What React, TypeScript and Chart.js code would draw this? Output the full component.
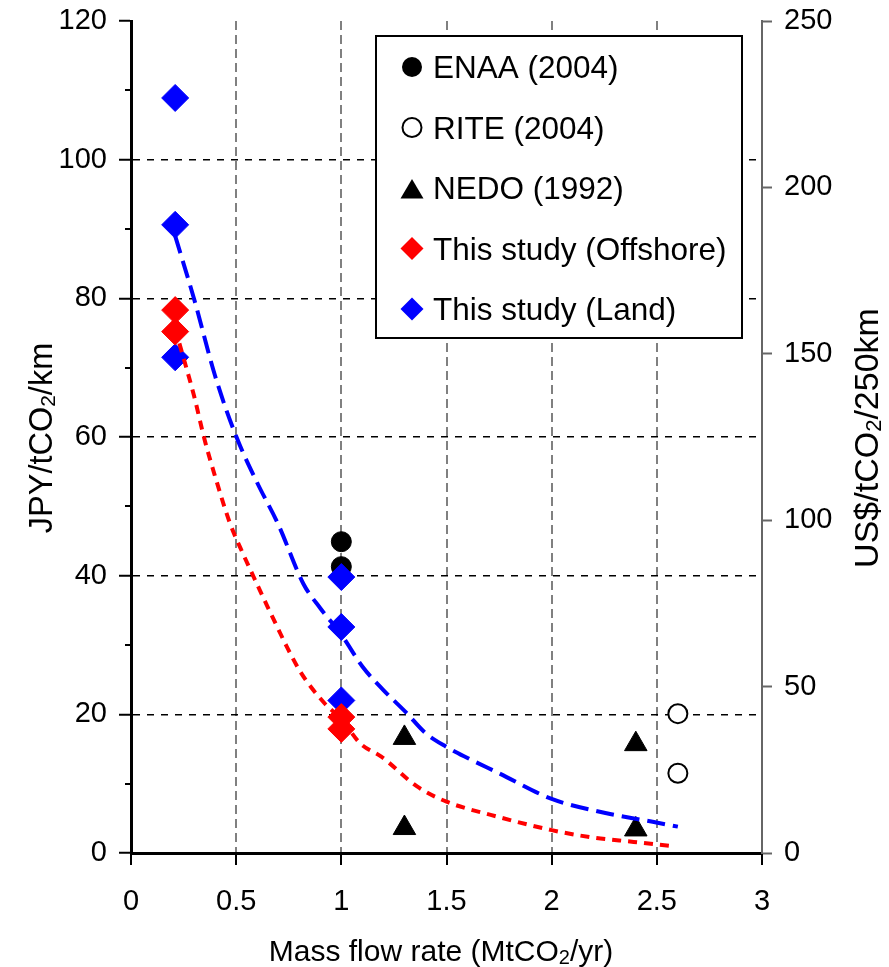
import React, { useEffect, useRef } from 'react';
import { Chart, registerables } from 'chart.js';

Chart.register(...registerables);

const FONT = '"Liberation Sans", Arial, sans-serif';

// ---- tick values ----
const X_TICKS = [0, 0.5, 1, 1.5, 2, 2.5, 3];
const Y_TICKS = [0, 20, 40, 60, 80, 100, 120];
const Y_MINOR = [10, 30, 50, 70, 90, 110];
const Y2_TICKS = [0, 50, 100, 150, 200, 250];

// ---- legend labels ----
const SERIES_LABELS = ['ENAA (2004)', 'RITE (2004)', 'NEDO (1992)', 'This study (Offshore)', 'This study (Land)'];

// ---- data (x: MtCO2/yr, y: JPY/tCO2/km) ----
const enaaX = [1, 1];
const enaaY = [44.9, 41.3];
const riteX = [2.6, 2.6];
const riteY = [20.1, 11.5];
const nedoX = [1.3, 1.3, 2.4, 2.4];
const nedoY = [16.6, 3.6, 15.7, 3.4];
const offshoreX = [0.21, 0.21, 1, 1];
const offshoreY = [78.3, 75.2, 19.6, 17.9];
const landX = [0.21, 0.21, 0.21, 1, 1, 1];
const landY = [108.9, 90.6, 71.5, 39.8, 32.6, 22.0];

// fitted curves
const landFitX = [0.21, 0.3, 0.4, 0.5, 0.6, 0.7, 0.82, 0.9, 1.0, 1.1, 1.2, 1.31, 1.4, 1.5, 1.6, 1.75, 2.0, 2.25, 2.48, 2.6];
const landFitY = [89, 79.9, 68.8, 60.1, 53.4, 47.4, 38.8, 35.3, 31.5, 26.9, 23.5, 20.2, 17.3, 15.3, 13.7, 11.5, 7.8, 5.8, 4.5, 3.8];
const offFitX = [0.23, 0.3, 0.35, 0.4, 0.47, 0.52, 0.585, 0.645, 0.7, 0.74, 0.81, 0.92, 1.0, 1.09, 1.19, 1.36, 1.5, 1.71, 2.0, 2.18, 2.39, 2.57];
const offFitY = [73.5, 65.9, 59.6, 54.3, 47.6, 44.0, 39.7, 35.8, 32.3, 29.8, 25.9, 21.6, 19.3, 15.8, 13.9, 9.6, 7.4, 5.5, 3.3, 2.3, 1.6, 1.0];

const zip = (xs: number[], ys: number[]) => xs.map((x, i) => ({ x, y: ys[i] }));

type Part = { text: string; sub?: boolean };

function drawRich(ctx: CanvasRenderingContext2D, parts: Part[], cx: number, baseY: number, size: number) {
  const mainF = `${size}px ${FONT}`;
  const subF = `${Math.round(size * 0.66)}px ${FONT}`;
  const widths = parts.map((p) => {
    ctx.font = p.sub ? subF : mainF;
    return ctx.measureText(p.text).width;
  });
  const total = widths.reduce((a, b) => a + b, 0);
  let x = cx - total / 2;
  ctx.textAlign = 'left';
  ctx.textBaseline = 'alphabetic';
  parts.forEach((p, i) => {
    ctx.font = p.sub ? subF : mainF;
    ctx.fillText(p.text, x, p.sub ? baseY + 3 : baseY);
    x += widths[i];
  });
}

const zeroPad = (axis: any) => {
  axis.paddingTop = 0;
  axis.paddingBottom = 0;
  axis.paddingLeft = 0;
  axis.paddingRight = 0;
};

const decorPlugin = {
  id: 'decor',
  afterDraw(chart: any) {
    const ctx: CanvasRenderingContext2D = chart.ctx;
    const yS = chart.scales.y;
    const area = chart.chartArea;
    ctx.save();
    // minor ticks on left axis
    ctx.strokeStyle = '#000';
    ctx.lineWidth = 2;
    Y_MINOR.forEach((v) => {
      const py = Math.round(yS.getPixelForValue(v));
      ctx.beginPath();
      ctx.moveTo(area.left - 6, py);
      ctx.lineTo(area.left, py);
      ctx.stroke();
    });

    // axis titles
    ctx.fillStyle = '#000';
    drawRich(ctx, [{ text: 'Mass flow rate (MtCO' }, { text: '2', sub: true }, { text: '/yr)' }], 441, 961, 30);

    ctx.save();
    ctx.translate(52, 438);
    ctx.rotate(-Math.PI / 2);
    drawRich(ctx, [{ text: 'JPY/tCO' }, { text: '2', sub: true }, { text: '/km' }], 0, 0, 32.5);
    ctx.restore();

    ctx.save();
    ctx.translate(878, 438);
    ctx.rotate(-Math.PI / 2);
    drawRich(ctx, [{ text: 'US$/tCO' }, { text: '2', sub: true }, { text: '/250km' }], 0, 0, 34);
    ctx.restore();

    // legend
    const lx = 376, ly = 36, lw = 366, lh = 302;
    ctx.fillStyle = '#fff';
    ctx.fillRect(lx, ly, lw, lh);
    ctx.lineWidth = 2;
    ctx.strokeStyle = '#000';
    ctx.strokeRect(lx, ly, lw, lh);
    const mx = 412;
    SERIES_LABELS.forEach((label, i) => {
      const cy = 67 + i * 60.5;
      ctx.save();
      if (i === 0) {
        ctx.fillStyle = '#000';
        ctx.beginPath();
        ctx.arc(mx, cy, 10, 0, Math.PI * 2);
        ctx.fill();
      } else if (i === 1) {
        ctx.fillStyle = '#fff';
        ctx.strokeStyle = '#000';
        ctx.lineWidth = 2;
        ctx.beginPath();
        ctx.arc(mx, cy, 9.5, 0, Math.PI * 2);
        ctx.fill();
        ctx.stroke();
      } else if (i === 2) {
        ctx.fillStyle = '#000';
        ctx.beginPath();
        ctx.moveTo(mx, cy - 9);
        ctx.lineTo(mx + 11.5, cy + 10.5);
        ctx.lineTo(mx - 11.5, cy + 10.5);
        ctx.closePath();
        ctx.fill();
      } else {
        ctx.fillStyle = i === 3 ? '#ff0000' : '#0000ff';
        const r = 11.5;
        ctx.beginPath();
        ctx.moveTo(mx, cy - r);
        ctx.lineTo(mx + r, cy);
        ctx.lineTo(mx, cy + r);
        ctx.lineTo(mx - r, cy);
        ctx.closePath();
        ctx.fill();
      }
      ctx.restore();
      ctx.fillStyle = '#000';
      ctx.font = `31.5px ${FONT}`;
      ctx.textAlign = 'left';
      ctx.textBaseline = 'alphabetic';
      ctx.fillText(label, 433, cy + 11);
    });
    ctx.restore();
  },
};

export default function App() {
  const ref = useRef<HTMLCanvasElement | null>(null);

  useEffect(() => {
    if (!ref.current) return;
    const transparent = 'rgba(0,0,0,0)';
    const chart = new Chart(ref.current, {
      type: 'scatter',
      data: {
        datasets: [
          {
            label: 'Offshore fit',
            data: zip(offFitX, offFitY),
            showLine: true,
            pointRadius: 0,
            borderColor: '#ff0000',
            borderWidth: 4,
            borderDash: [9, 7],
            cubicInterpolationMode: 'monotone',
          },
          {
            label: 'Land fit',
            data: zip(landFitX, landFitY),
            showLine: true,
            pointRadius: 0,
            borderColor: '#0000ff',
            borderWidth: 4,
            borderDash: [18, 8],
            cubicInterpolationMode: 'monotone',
          },
          {
            label: SERIES_LABELS[3],
            data: zip(offshoreX, offshoreY),
            pointStyle: 'rectRot',
            pointRadius: 13.5,
            backgroundColor: '#ff0000',
            borderColor: '#ff0000',
            borderWidth: 1,
          },
          {
            label: SERIES_LABELS[4],
            data: zip(landX, landY),
            pointStyle: 'rectRot',
            pointRadius: 13.5,
            backgroundColor: '#0000ff',
            borderColor: '#0000ff',
            borderWidth: 1,
          },
          {
            label: SERIES_LABELS[2],
            data: zip(nedoX, nedoY),
            pointStyle: 'triangle',
            pointRadius: 13,
            backgroundColor: '#000',
            borderColor: '#000',
            borderWidth: 1,
          },
          {
            label: SERIES_LABELS[1],
            data: zip(riteX, riteY),
            pointStyle: 'circle',
            pointRadius: 9.5,
            backgroundColor: '#fff',
            borderColor: '#000',
            borderWidth: 2,
          },
          {
            label: SERIES_LABELS[0],
            data: zip(enaaX, enaaY),
            pointStyle: 'circle',
            pointRadius: 10,
            backgroundColor: '#000',
            borderColor: '#000',
            borderWidth: 1,
          },
        ],
      },
      options: {
        animation: false,
        responsive: false,
        maintainAspectRatio: false,
        layout: { padding: { top: 21, left: 0, right: 0, bottom: 0 } },
        plugins: { legend: { display: false }, tooltip: { enabled: false } },
        scales: {
          x: {
            type: 'linear',
            position: 'bottom',
            min: 0,
            max: 3,
            afterBuildTicks: (axis: any) => {
              axis.ticks = X_TICKS.map((v) => ({ value: v }));
            },
            afterFit: (axis: any) => {
              axis.height = 114;
              zeroPad(axis);
            },
            ticks: {
              callback: (v: any) => String(v),
              font: { family: FONT, size: 29 },
              color: '#000',
              padding: 20,
              maxRotation: 0,
              autoSkip: false,
            },
            grid: {
              color: (c: any) => (c.tick && (c.tick.value === 0 || c.tick.value === 3) ? transparent : '#808080'),
              lineWidth: 2,
              tickColor: '#000',
              tickWidth: 2,
              tickLength: 12,
            },
            border: { display: true, color: '#000', width: 3, dash: [9, 5] },
          },
          y: {
            type: 'linear',
            position: 'left',
            min: 0,
            max: 120,
            afterBuildTicks: (axis: any) => {
              axis.ticks = Y_TICKS.map((v) => ({ value: v }));
            },
            afterFit: (axis: any) => {
              axis.width = 131;
              zeroPad(axis);
            },
            ticks: {
              callback: (v: any) => String(v),
              font: { family: FONT, size: 29 },
              color: '#000',
              padding: 12,
            },
            grid: {
              color: (c: any) => (c.tick && (c.tick.value === 0 || c.tick.value === 120) ? transparent : '#000'),
              lineWidth: 1.5,
              tickColor: '#000',
              tickWidth: 2,
              tickLength: 12,
            },
            border: { display: true, color: '#000', width: 3, dash: [7, 7] },
          },
          y2: {
            type: 'linear',
            position: 'right',
            min: 0,
            max: 250,
            afterBuildTicks: (axis: any) => {
              axis.ticks = Y2_TICKS.map((v) => ({ value: v }));
            },
            afterFit: (axis: any) => {
              axis.width = 127;
              zeroPad(axis);
            },
            ticks: {
              callback: (v: any) => String(v),
              font: { family: FONT, size: 29 },
              color: '#000',
              padding: 12,
            },
            grid: {
              drawOnChartArea: false,
              tickColor: '#666',
              tickWidth: 2,
              tickLength: 10,
            },
            border: { display: true, color: '#666', width: 2 },
          },
        },
      },
      plugins: [decorPlugin],
    } as any);
    return () => chart.destroy();
  }, []);

  return (
    <div style={{ position: 'absolute', left: 0, top: 0, width: 889, height: 967, background: '#fff' }}>
      <canvas ref={ref} width={889} height={967} style={{ display: 'block', width: 889, height: 967 }} />
    </div>
  );
}
